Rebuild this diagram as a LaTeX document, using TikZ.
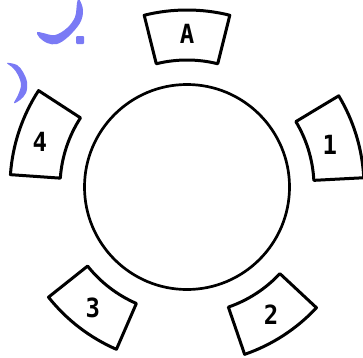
\documentclass[tikz,border=0pt]{standalone}
\usepackage{fontspec}
\usetikzlibrary{calc}
\newfontfamily\labfont{DejaVu Sans Mono}
\begin{document}
\begin{tikzpicture}[x=1pt,y=1pt,
  seat/.style={line width=3pt,line join=round},
  seatlabel/.style={font=\labfont\bfseries\fontsize{24}{24}\selectfont,inner sep=0pt,yscale=1.1},
  ink/.style={fill={rgb,255:red,122;green,122;blue,245},draw=none}]
\useasboundingbox (0,0) rectangle (363,357);
\coordinate (c) at (187,170);
\node[draw,circle,line width=2.7pt,minimum size=205pt,inner sep=0pt] (table) at (c) {};
% seats: start angle, end angle
\foreach \a/\b/\n in {76/104/sA, 3/31/s1, -71/-43/s2, 218.5/246.5/s3, 147/176/s4}{
  \draw[seat,shift={(c)}] (\a:127) arc[start angle=\a,end angle=\b,radius=127]
    -- (\b:177) arc[start angle=\b,end angle=\a,radius=177] -- cycle;
}
\node[seatlabel] (lA) at ($(c)+(90:153)$) {A};
\node[seatlabel] (l1) at ($(c)+(16.5:149)$) {1};
\node[seatlabel] (l2) at ($(c)+(-56.7:153)$) {2};
\node[seatlabel] (l3) at ($(c)+(232:153)$) {3};
\node[seatlabel] (l4) at ($(c)+(163:154)$) {4};
% blue handwritten marks
\fill[ink] plot[smooth cycle,tension=0.6] coordinates {(79,358) (83,347) (80,334) (68,320) (57,313) (47,314) (39,320) (37,325) (43,324) (55,322) (67,329) (75,340) (77,354)};
\fill[ink,rounded corners=1pt] (76,313) rectangle (84,321);
\fill[ink] plot[smooth cycle,tension=0.6] coordinates {(7,294) (17,292) (23,285) (27,275) (26,264) (20,257) (14,254) (18,262) (21,272) (18,282) (13,289)};
\end{tikzpicture}
\end{document}
